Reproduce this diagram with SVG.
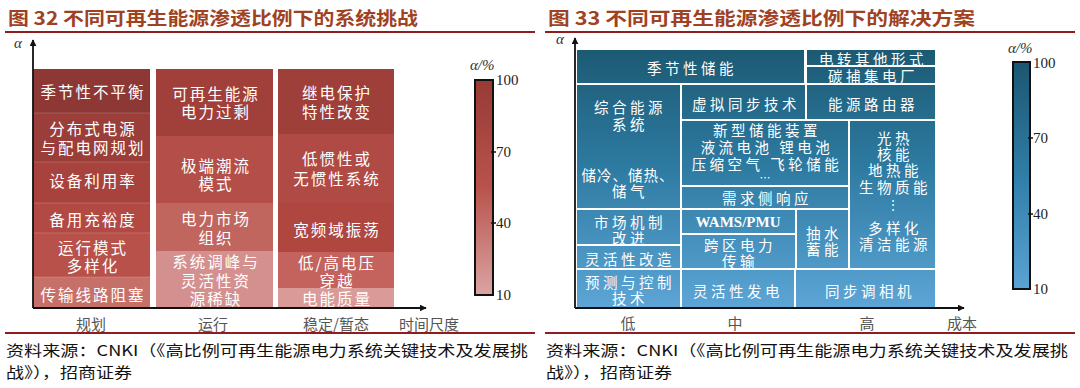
<svg xmlns="http://www.w3.org/2000/svg" width="1080" height="388" viewBox="0 0 1080 388">
<style>
.title{font-family:"Noto Sans CJK SC",sans-serif;font-size:18px;font-weight:bold;fill:#a0421f}
.cw{font-family:"Noto Sans CJK SC",sans-serif;font-size:15.5px;fill:#fff;text-anchor:middle;dominant-baseline:central;letter-spacing:2px}
.cb{font-family:"Noto Sans CJK SC",sans-serif;font-size:14.5px;fill:#fff;text-anchor:middle;dominant-baseline:central;letter-spacing:3.5px}
.ax{font-family:"Noto Sans CJK SC",sans-serif;font-size:15px;fill:#555;text-anchor:middle;dominant-baseline:central}
.num{font-family:"Liberation Serif",serif;font-size:15px;fill:#222;dominant-baseline:central}
.alpha{font-family:"Liberation Serif",serif;font-size:15px;font-style:italic;fill:#333}
.foot{font-family:"Noto Sans CJK SC",sans-serif;font-size:15px;fill:#111;dominant-baseline:central}
.rule{stroke:#8f1d1d;stroke-width:2}
.axis{stroke:#111;stroke-width:1.8;fill:none}
.bar{stroke:#111;stroke-width:2}
.tick{stroke:#111;stroke-width:1.5}
.bcell{stroke:#fff;stroke-width:2}
.wams{font-family:"Liberation Serif",serif;font-size:15px;font-weight:bold;fill:#fff;text-anchor:middle;dominant-baseline:central}
</style>
<defs>
<marker id="arr" viewBox="0 0 10 10" refX="9" refY="5" markerWidth="7" markerHeight="7" orient="auto-start-reverse" markerUnits="userSpaceOnUse">
<path d="M0,0 L10,5 L0,10 z" fill="#111"/>
</marker>
<linearGradient id="redbar" x1="0" y1="0" x2="0" y2="1">
<stop offset="0" stop-color="#983a35"/>
<stop offset="0.5" stop-color="#b8534c"/>
<stop offset="1" stop-color="#dba4a3"/>
</linearGradient>
<linearGradient id="bluebar" x1="0" y1="0" x2="0" y2="1">
<stop offset="0" stop-color="#1b5670"/>
<stop offset="0.5" stop-color="#2f7ea8"/>
<stop offset="1" stop-color="#5aa3d4"/>
</linearGradient>
<linearGradient id="bluegrid" gradientUnits="userSpaceOnUse" x1="0" y1="50" x2="0" y2="307">
<stop offset="0" stop-color="#1c5a73"/>
<stop offset="0.45" stop-color="#2d7aa1"/>
<stop offset="1" stop-color="#5ca5d6"/>
</linearGradient>
</defs>

<!-- LEFT PANEL -->
<text class="title" x="8" y="25" textLength="410" lengthAdjust="spacingAndGlyphs">图 32  不同可再生能源渗透比例下的系统挑战</text>
<line class="rule" x1="5" y1="32" x2="535" y2="32"/>
<text class="alpha" x="14" y="48">α</text>

<g id="left-col1">
<rect x="33" y="69" width="117" height="44" fill="#8d3834"/>
<rect x="33" y="113" width="117" height="49" fill="#9b3d38"/>
<rect x="33" y="162" width="117" height="41" fill="#a8423c"/>
<rect x="33" y="203" width="117" height="30" fill="#b24a43"/>
<rect x="33" y="233" width="117" height="44" fill="#b8514a"/>
<rect x="33" y="277" width="117" height="31" fill="#c6706a"/>
<g stroke="#ffffff" stroke-opacity="0.18" stroke-width="1">
<line x1="33" y1="113" x2="150" y2="113"/><line x1="33" y1="162" x2="150" y2="162"/><line x1="33" y1="203" x2="150" y2="203"/><line x1="33" y1="233" x2="150" y2="233"/><line x1="33" y1="277" x2="150" y2="277"/>
</g>
<text class="cw" x="93" y="91">季节性不平衡</text>
<text class="cw" x="93" y="128">分布式电源<tspan x="93" dy="19">与配电网规划</tspan></text>
<text class="cw" x="93" y="180">设备利用率</text>
<text class="cw" x="93" y="219">备用充裕度</text>
<text class="cw" x="93" y="247">运行模式<tspan x="93" dy="18">多样化</tspan></text>
<text class="cw" x="93" y="294">传输线路阻塞</text>
</g>

<g id="left-col2">
<rect x="156" y="69" width="117" height="67" fill="#a1403a"/>
<rect x="156" y="136" width="117" height="67" fill="#b34f48"/>
<rect x="156" y="203" width="117" height="48" fill="#c1655f"/>
<rect x="156" y="251" width="117" height="57" fill="#d4908e"/>
<text class="cw" x="216" y="93">可再生能源<tspan x="216" dy="18">电力过剩</tspan></text>
<text class="cw" x="216" y="165">极端潮流<tspan x="216" dy="18">模式</tspan></text>
<text class="cw" x="216" y="218">电力市场<tspan x="216" dy="19">组织</tspan></text>
<text class="cw" x="216" y="261">系统调峰与<tspan x="216" dy="19">灵活性资</tspan><tspan x="216" dy="18">源稀缺</tspan></text>
</g>

<g id="left-col3">
<rect x="278" y="69" width="116" height="65" fill="#9f3f3a"/>
<rect x="278" y="134" width="116" height="69" fill="#b04a44"/>
<rect x="278" y="203" width="116" height="49" fill="#b04640"/>
<rect x="278" y="252" width="116" height="36" fill="#c4635d"/>
<rect x="278" y="288" width="116" height="20" fill="#d99a98"/>
<text class="cw" x="337" y="92">继电保护<tspan x="337" dy="19">特性改变</tspan></text>
<text class="cw" x="337" y="158">低惯性或<tspan x="337" dy="20">无惯性系统</tspan></text>
<text class="cw" x="337" y="229">宽频域振荡</text>
<text class="cw" x="337" y="262">低/高电压<tspan x="337" dy="18">穿越</tspan></text>
<text class="cw" x="337" y="298">电能质量</text>
</g>

<g id="left-axes">
<line class="axis" x1="33" y1="308" x2="33" y2="40" marker-end="url(#arr)"/>
<line class="axis" x1="33" y1="308" x2="426" y2="308" marker-end="url(#arr)"/>
<text class="ax" x="91" y="323">规划</text>
<text class="ax" x="213" y="323">运行</text>
<text class="ax" x="336" y="323">稳定/暂态</text>
<text class="ax" x="429" y="323">时间尺度</text>
</g>

<g id="left-legend">
<text class="alpha" x="470" y="70">α/%</text>
<rect class="bar" x="475" y="80" width="18" height="215" fill="url(#redbar)"/>
<line class="tick" x1="491" y1="152" x2="496" y2="152"/>
<line class="tick" x1="491" y1="223" x2="496" y2="223"/>
<text class="num" x="496" y="80">100</text>
<text class="num" x="496" y="152">70</text>
<text class="num" x="496" y="223">40</text>
<text class="num" x="496" y="295">10</text>
</g>

<line class="rule" x1="5" y1="333" x2="535" y2="333"/>
<text class="foot" x="6" y="349" textLength="522" lengthAdjust="spacingAndGlyphs">资料来源：CNKI（《高比例可再生能源电力系统关键技术及发展挑</text>
<text class="foot" x="6" y="371" textLength="126" lengthAdjust="spacingAndGlyphs">战》），招商证券</text>

<!-- RIGHT PANEL -->
<text class="title" x="548" y="25" textLength="427" lengthAdjust="spacingAndGlyphs">图 33    不同可再生能源渗透比例下的解决方案</text>
<line class="rule" x1="545" y1="32" x2="1075" y2="32"/>
<text class="alpha" x="556" y="44">α</text>

<g id="right-cells" fill="url(#bluegrid)">
<rect class="bcell" x="576" y="49" width="229" height="35"/>
<rect class="bcell" x="806" y="49" width="130" height="17"/>
<rect class="bcell" x="806" y="66" width="130" height="18"/>
<rect class="bcell" x="576" y="84" width="105" height="125"/>
<rect class="bcell" x="681" y="84" width="125" height="36"/>
<rect class="bcell" x="806" y="84" width="130" height="36"/>
<rect class="bcell" x="681" y="120" width="168" height="66"/>
<rect class="bcell" x="681" y="186" width="168" height="23"/>
<rect class="bcell" x="849" y="120" width="87" height="149"/>
<rect class="bcell" x="576" y="209" width="105" height="36"/>
<rect class="bcell" x="576" y="245" width="105" height="24"/>
<rect class="bcell" x="576" y="269" width="105" height="39"/>
<rect class="bcell" x="681" y="209" width="115" height="25"/>
<rect class="bcell" x="681" y="234" width="115" height="35"/>
<rect class="bcell" x="796" y="209" width="53" height="60"/>
<rect class="bcell" x="681" y="269" width="114" height="39"/>
<rect class="bcell" x="795" y="269" width="141" height="39"/>
</g>

<g id="right-labels">
<text class="cb" x="692" y="67">季节性储能</text>
<text class="cb" x="873" y="58">电转其他形式<tspan x="873" dy="17">碳捕集电厂</tspan></text>
<text class="cb" x="630" y="106">综合能源<tspan x="630" dy="17">系统</tspan></text>
<text class="cb" x="628" y="174" style="letter-spacing:1px">储冷、储热、<tspan x="630" dy="16" style="letter-spacing:3.5px">储气</tspan></text>
<text class="cb" x="746" y="103">虚拟同步技术</text>
<text class="cb" x="873" y="103">能源路由器</text>
<text class="cb" x="767" y="129">新型储能装置<tspan x="767" dy="17">液流电池  锂电池</tspan><tspan x="767" dy="17">压缩空气  飞轮储能</tspan><tspan x="765" dy="14" style="letter-spacing:0px;font-size:11px">…</tspan></text>
<text class="cb" x="767" y="197">需求侧响应</text>
<text class="cb" x="895" y="137">光热<tspan x="895" dy="16">核能</tspan><tspan x="895" dy="16">地热能</tspan><tspan x="895" dy="17">生物质能</tspan><tspan x="893" dy="17" style="letter-spacing:0px;font-size:12px">⋮</tspan><tspan x="895" dy="24">多样化</tspan><tspan x="895" dy="16">清洁能源</tspan></text>
<text class="cb" x="630" y="221">市场机制<tspan x="630" dy="16">改进</tspan></text>
<text class="cb" x="630" y="258">灵活性改造</text>
<text class="cb" x="630" y="281">预测与控制<tspan x="630" dy="16">技术</tspan></text>
<text class="wams" x="738" y="222">WAMS/PMU</text>
<text class="cb" x="740" y="244">跨区电力<tspan x="740" dy="16">传输</tspan></text>
<text class="cb" x="824" y="232">抽水<tspan x="824" dy="16">蓄能</tspan></text>
<text class="cb" x="738" y="290">灵活性发电</text>
<text class="cb" x="870" y="290">同步调相机</text>
</g>

<g id="right-axes">
<line class="axis" x1="575" y1="308" x2="575" y2="38" marker-end="url(#arr)"/>
<line class="axis" x1="575" y1="308" x2="964" y2="308" marker-end="url(#arr)"/>
<text class="ax" x="628" y="322">低</text>
<text class="ax" x="735" y="322">中</text>
<text class="ax" x="867" y="322">高</text>
<text class="ax" x="962" y="322">成本</text>
</g>

<g id="right-legend">
<text class="alpha" x="1008" y="53">α/%</text>
<rect class="bar" x="1013" y="62" width="17" height="227" fill="url(#bluebar)"/>
<line class="tick" x1="1028" y1="138" x2="1033" y2="138"/>
<line class="tick" x1="1028" y1="214" x2="1033" y2="214"/>
<text class="num" x="1033" y="63">100</text>
<text class="num" x="1033" y="138">70</text>
<text class="num" x="1033" y="214">40</text>
<text class="num" x="1033" y="289">10</text>
</g>

<line class="rule" x1="545" y1="333" x2="1075" y2="333"/>
<text class="foot" x="546" y="349" textLength="522" lengthAdjust="spacingAndGlyphs">资料来源：CNKI（《高比例可再生能源电力系统关键技术及发展挑</text>
<text class="foot" x="546" y="371" textLength="126" lengthAdjust="spacingAndGlyphs">战》），招商证券</text>
</svg>
